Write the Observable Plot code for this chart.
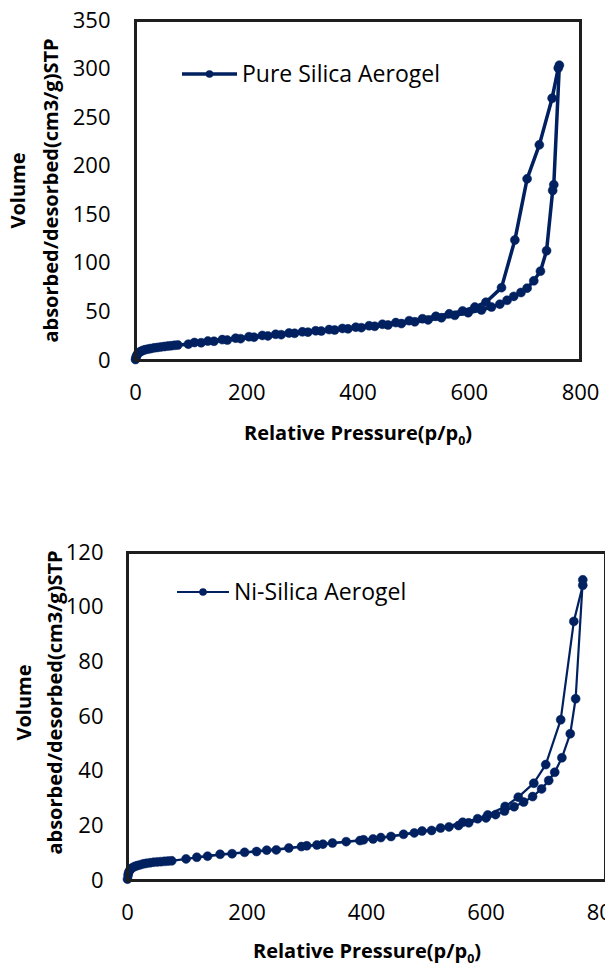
<!DOCTYPE html>
<html><head><meta charset="utf-8">
<script src="https://cdn.jsdelivr.net/npm/d3@7"></script>
<script src="https://cdn.jsdelivr.net/npm/@observablehq/plot@0.6"></script>
<style>
html,body{margin:0;padding:0;background:#fff;}
#wrap{position:relative;width:605px;height:968px;overflow:hidden;background:#fff;}
#wrap svg{position:absolute;left:0;overflow:visible;}
</style></head><body><div id="wrap"></div>
<script>
// ---------- data ----------
const xTicks = [0, 200, 400, 600, 800];
const yTicksPure = [0, 50, 100, 150, 200, 250, 300, 350];
const yTicksNi = [0, 20, 40, 60, 80, 100, 120];

const pureLegend = "Pure Silica Aerogel";
const niLegend = "Ni-Silica Aerogel";
const yLabel1 = "Volume";
const yLabel2 = "absorbed/desorbed(cm3/g)STP";
const xLabelMain = "Relative Pressure(p/p";
const xLabelSub = "0";

// Pure silica aerogel – adsorption branch
const pureAdsX = [0,1,2,4,7,10,14,18,23,28,34,40,46,52,58,64,70,76,95,118,141,165,189,213,238,262,286,310,334,358,382,406,430,454,478,502,526,550,574,598,622,640,655,668,680,693,704,716,728,739,750,752,762];
const pureAdsY = [1,3,5,7,8.5,9.5,10.5,11.2,11.8,12.4,13,13.5,14,14.4,14.8,15.2,15.6,16,16.8,18.3,19.8,21,22.5,24,25.3,26.6,28,29.2,30.3,31.4,32.6,33.8,35.2,36.6,38,39.8,41.8,44,46.5,49.2,52,55,58,62,66,70,74.5,82,92,113,175,181,304];
// Pure silica aerogel – desorption branch
const pureDesX = [760,749,726,704,682,658,630,610,588,564,540,516,492,468,444,420,396,372,348,324,300,276,252,228,204,180,156,130,106];
const pureDesY = [301,270,222,187,124,75,60,55,51,48,45.5,43,41,39,37.3,35.8,34.3,33,31.8,30.6,29.5,28.3,27,25.8,24.5,23,21.5,20,18.5];

// Ni-silica aerogel – adsorption branch
const niAdsX = [0,1,2,4,6,9,13,17,22,27,32,38,44,50,56,62,68,74,98,134,175,216,249,291,317,343,389,411,441,480,509,538,554,571,600,616,631,647,663,678,693,705,715,727,741,750,762];
const niAdsY = [0.5,2,3,3.8,4.3,4.8,5.2,5.5,5.8,6.1,6.3,6.5,6.7,6.8,6.9,7,7.1,7.2,7.9,8.9,9.8,10.6,11.2,12.4,13,13.7,14.6,15.2,16.1,17.4,18.3,19.6,20.1,21.1,22.9,24.1,25.4,27,28.7,30.7,33.5,36.6,39.6,44.9,53.7,66.5,110];
// Ni-silica aerogel – desorption branch
const niDesX = [762,747,725,700,680,654,632,603,586,561,524,493,462,424,395,366,327,300,270,233,196,155,116];
const niDesY = [108,94.8,58.8,42.4,35.6,30.5,27.1,24,22.6,21.3,19.2,18.1,16.9,15.7,14.9,14.2,13.3,12.7,11.9,11.1,10.3,9.6,8.5];

// ---------- helpers ----------
const NAVY = "#002060";
const FONT = "Open Sans";
function rows(xs, ys, branch) { return xs.map((x, i) => ({x, y: ys[i], branch})); }

function chart(o) {
  const data = [...rows(o.adsX, o.adsY, "ads"), ...rows(o.desX, o.desY, "des")];
  const svg = Plot.plot({
    width: 605, height: o.height,
    marginLeft: o.ml, marginRight: o.mr, marginTop: o.mt, marginBottom: o.mb,
    style: {fontFamily: FONT, fontSize: "20px", color: "#000", background: "transparent", overflow: "visible"},
    x: {domain: [0, 800], ticks: xTicks},
    y: {domain: o.yDomain, ticks: o.yTicks},
    marks: [
      Plot.axisX({ticks: xTicks, tickSize: 0, tickPadding: o.xPad, label: null, fontSize: o.tickFont}),
      Plot.axisY({ticks: o.yTicks, tickSize: 0, tickPadding: o.yPad, label: null, fontSize: o.tickFont}),
      Plot.line(data, {x: "x", y: "y", z: "branch", stroke: NAVY, strokeWidth: o.lw, curve: "linear"}),
      Plot.dot(data, {x: "x", y: "y", r: 4.5, fill: NAVY, stroke: NAVY, strokeWidth: 0.5}),
      Plot.frame({stroke: "#1e1e1e", strokeWidth: 3}),
      Plot.text([yLabel1], {text: d => d, frameAnchor: "left", rotate: -90, textAnchor: "middle", dx: o.yl1dx, dy: o.yldy, fontWeight: "bold", fontSize: o.ylFont}),
      Plot.text([yLabel2], {text: d => d, frameAnchor: "left", rotate: -90, textAnchor: "middle", dx: o.yl2dx, dy: o.yldy, fontWeight: "bold", fontSize: o.ylFont})
    ]
  });
  svg.style.top = o.top + "px";
  const s = d3.select(svg);
  // x axis title with subscript
  const t = s.append("text").attr("x", o.xlx).attr("y", o.xly).attr("text-anchor", "middle")
    .attr("font-family", FONT).attr("font-weight", "bold").attr("font-size", o.xlFont).attr("fill", "#000");
  t.append("tspan").text(xLabelMain);
  t.append("tspan").text(xLabelSub).attr("font-size", o.xlFont * 0.62).attr("dy", 5);
  t.append("tspan").text(")").attr("dy", -5);
  // legend
  const g = s.append("g");
  g.append("line").attr("x1", o.lgx1).attr("x2", o.lgx2).attr("y1", o.lgy).attr("y2", o.lgy)
    .attr("stroke", NAVY).attr("stroke-width", o.lw);
  g.append("circle").attr("cx", (o.lgx1 + o.lgx2) / 2).attr("cy", o.lgy).attr("r", 3.8).attr("fill", NAVY);
  g.append("text").attr("x", o.lgx2 + 5).attr("y", o.lgy).attr("dy", "0.36em").attr("text-anchor", "start")
    .attr("font-family", FONT).attr("font-size", o.lgFont).attr("fill", "#000").text(o.legend);
  document.getElementById("wrap").appendChild(svg);
}

chart({
  top: 0, height: 460, ml: 135, mr: 25, mt: 20, mb: 100,
  yDomain: [0, 350], yTicks: yTicksPure,
  adsX: pureAdsX, adsY: pureAdsY, desX: pureDesX, desY: pureDesY,
  lw: 3.5, xPad: 24, yPad: 25, tickFont: 22,
  yl1dx: -117, yl2dx: -84, yldy: 0, ylFont: 20,
  xlx: 358, xly: 440, xlFont: 20,
  lgx1: 182, lgx2: 237, lgy: 74, lgFont: 23, legend: pureLegend
});

chart({
  top: 484, height: 484, ml: 127, mr: 0, mt: 68, mb: 88,
  yDomain: [0, 120], yTicks: yTicksNi,
  adsX: niAdsX, adsY: niAdsY, desX: niDesX, desY: niDesY,
  lw: 2.2, xPad: 24, yPad: 24, tickFont: 22,
  yl1dx: -103, yl2dx: -72, yldy: -14, ylFont: 20,
  xlx: 367, xly: 958 - 484, xlFont: 20,
  lgx1: 177, lgx2: 229, lgy: 592 - 484, lgFont: 23, legend: niLegend
});
</script></body></html>
